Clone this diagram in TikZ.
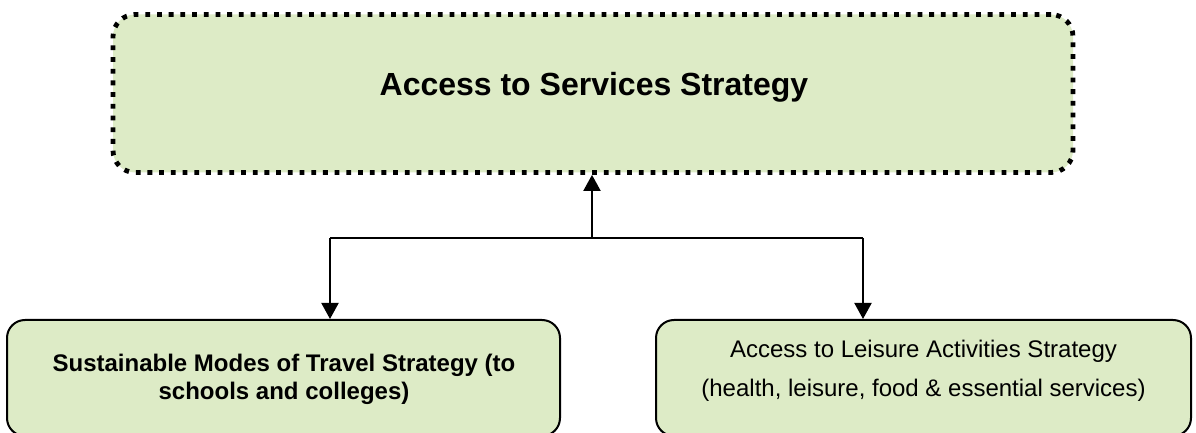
\documentclass[tikz,border=0pt]{standalone}
\usepackage{fontspec}
\setmainfont{Liberation Sans}
\usepackage{xcolor}
\usetikzlibrary{arrows.meta,positioning,calc}

\definecolor{boxgreen}{RGB}{221,235,198}

\begin{document}
\begin{tikzpicture}[x=0.5pt,y=-0.5pt,
  mainbox/.style={draw,fill=boxgreen,line width=2.4pt,dash pattern=on 2.4pt off 3.45pt,rounded corners=11pt,minimum width=480pt,minimum height=79pt,inner sep=0pt},
  subbox/.style={draw,fill=boxgreen,line width=1pt,rounded corners=9pt,minimum height=58pt,inner sep=0pt},
  link/.style={line width=1pt},
  arrow/.style={link,-{Triangle[length=8pt,width=8.5pt]}}]
\useasboundingbox (0,0) rectangle (1196,433);

% Strategy boxes
\node[mainbox] (services) at (593,93.5) {};
\node[subbox,minimum width=276.5pt] (travel) at (283.5,378) {};
\node[subbox,minimum width=267.5pt] (leisure) at (923.5,378) {};

% Box texts
\node[anchor=base,font=\fontsize{16}{19}\selectfont\bfseries] (servicestext) at (594,96) {Access to Services Strategy};
\node[align=center,font=\fontsize{12}{14}\selectfont\bfseries] (traveltext) at (284,379) {Sustainable Modes of Travel Strategy (to\\schools and colleges)};
\node[align=center,font=\fontsize{12}{19.5}\selectfont] (leisuretext) at (923.5,371) {Access to Leisure Activities Strategy\\(health, leisure, food \& essential services)};

% Connectors
\coordinate (split) at (592,238);
\coordinate (leftdrop) at (330,238);
\coordinate (rightdrop) at (863,238);
\draw[arrow] (split) -- (split |- services.south);
\draw[link] (leftdrop) -- (rightdrop);
\draw[arrow] (leftdrop) -- (leftdrop |- travel.north);
\draw[arrow] (rightdrop) -- (rightdrop |- leisure.north);
\end{tikzpicture}
\end{document}
